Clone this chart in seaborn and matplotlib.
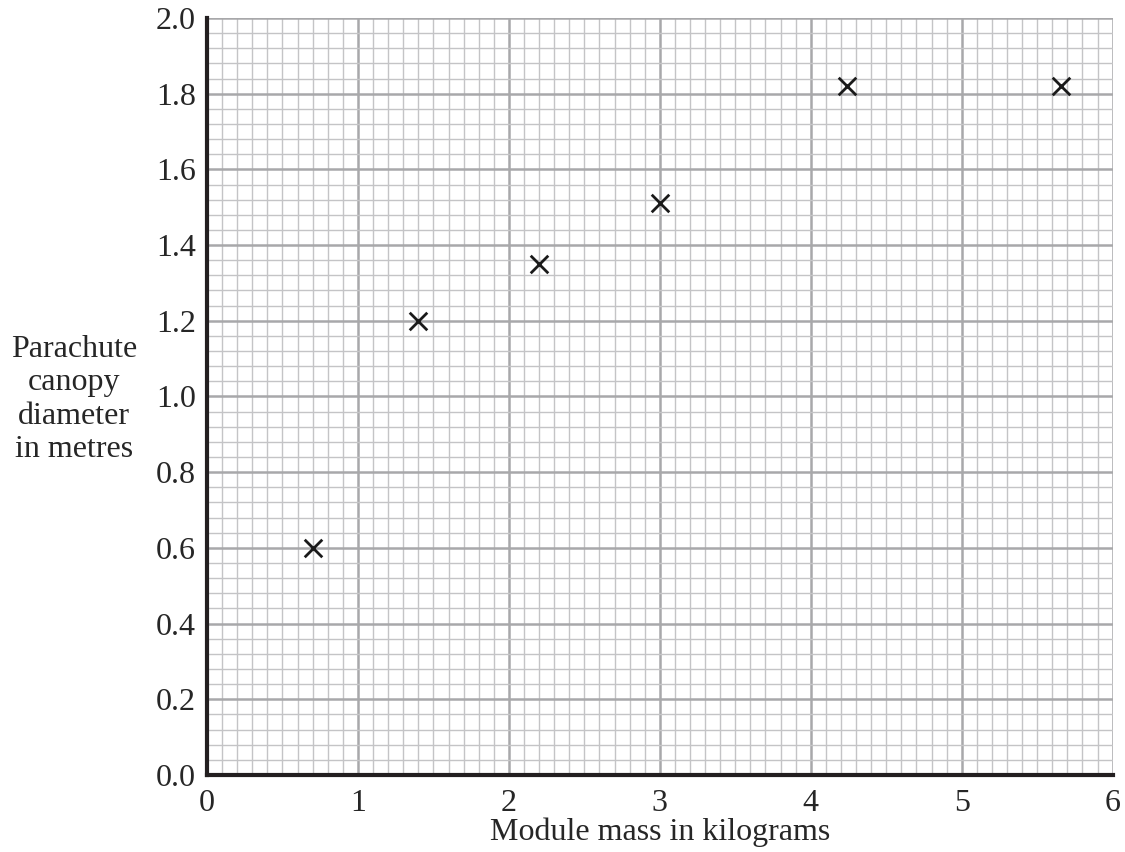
import numpy as np
import pandas as pd
import matplotlib
matplotlib.use("Agg")
import matplotlib.pyplot as plt
import seaborn as sns

# Data
module_mass_kg = [0.7, 1.4, 2.2, 3.0, 4.24, 5.66]
canopy_diameter_m = [0.60, 1.20, 1.35, 1.51, 1.82, 1.82]

x_ticks = [0, 1, 2, 3, 4, 5, 6]
y_ticks = [0.0, 0.2, 0.4, 0.6, 0.8, 1.0, 1.2, 1.4, 1.6, 1.8, 2.0]

df = pd.DataFrame({"mass": module_mass_kg, "diameter": canopy_diameter_m})

sns.set_style("white")
plt.rcParams['font.family'] = ['Liberation Serif', 'DejaVu Serif']

fig = plt.figure(figsize=(11.25, 8.52), dpi=100)
ax = fig.add_axes([0.184, 0.0904, 0.805, 0.8885])

# graph paper grid
ax.set_xticks(np.arange(0, 6.001, 0.1), minor=True)
ax.set_yticks(np.arange(0, 2.0001, 0.04), minor=True)
ax.grid(which='minor', color='#c4c4c6', linewidth=1.0, zorder=0)
ax.grid(which='major', color='#a8a8aa', linewidth=1.8, zorder=0)
ax.set_axisbelow(True)

sns.scatterplot(data=df, x="mass", y="diameter", marker='x', s=160,
                color='#1a1a1a', linewidth=2.0, ax=ax, zorder=5)

ax.set_xlim(0, 6)
ax.set_ylim(0, 2.0)
ax.set_xticks(x_ticks)
ax.set_xticklabels([str(v) for v in x_ticks])
ax.set_yticks(y_ticks)
ax.set_yticklabels([f"{v:.1f}" for v in y_ticks])

for s in ['top', 'right']:
    ax.spines[s].set_visible(False)
for s in ['left', 'bottom']:
    ax.spines[s].set_linewidth(3.0)
    ax.spines[s].set_color('#231f20')

ax.tick_params(axis='both', which='major', length=6, width=1.3, color='#231f20',
               labelsize=23, direction='out', pad=2)
ax.tick_params(axis='x', which='major', pad=4)
ax.tick_params(axis='both', which='minor', length=0)

ax.set_xlabel("Module mass in kilograms", fontsize=23, labelpad=0)
ax.set_ylabel("")
fig.text(0.066, 0.531, "Parachute\ncanopy\ndiameter\nin metres", fontsize=23,
         ha='center', va='center', linespacing=1.2)

fig.savefig("out.png", dpi=100)
plt.close(fig)
